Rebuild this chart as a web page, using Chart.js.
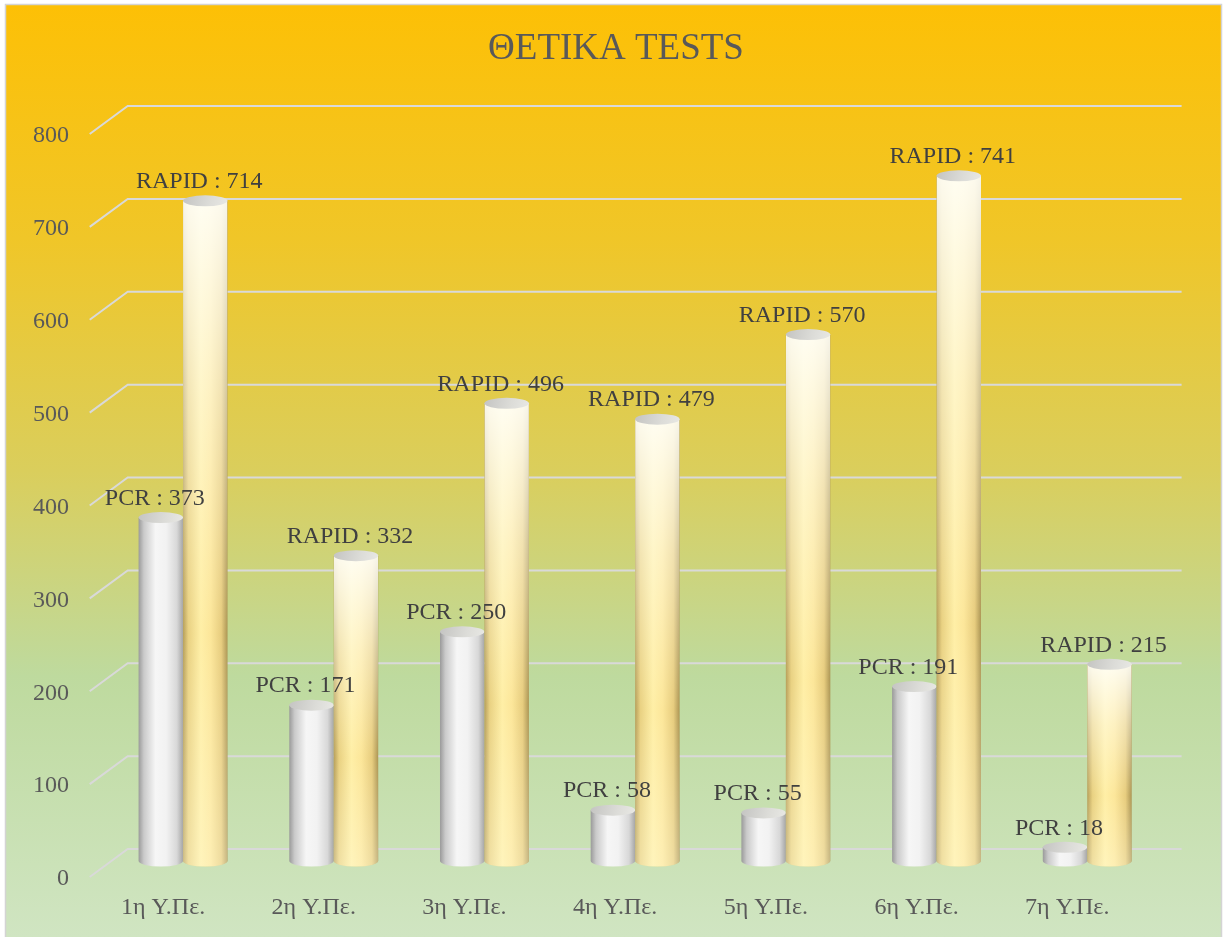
<!DOCTYPE html>
<html><head><meta charset="utf-8">
<script src="https://cdn.jsdelivr.net/npm/chart.js@4/dist/chart.umd.min.js"></script>
<style>html,body{margin:0;padding:0;background:#fff;}canvas{display:block;}</style>
</head><body>
<canvas id="c" width="1226" height="937"></canvas>
<script>
const categories = ['1η Υ.Πε.', '2η Υ.Πε.', '3η Υ.Πε.', '4η Υ.Πε.', '5η Υ.Πε.', '6η Υ.Πε.', '7η Υ.Πε.'];
const pcrValues = [373, 171, 250, 58, 55, 191, 18];
const rapidValues = [714, 332, 496, 479, 570, 741, 215];
const yTickValues = [0, 100, 200, 300, 400, 500, 600, 700, 800];
const seriesNames = ['PCR', 'RAPID'];
const titleText = 'ΘΕΤΙΚΑ TESTS';

const FONT = "'Liberation Serif', 'Times New Roman', serif";

const bgPlugin = {
  id: 'bg',
  beforeDraw(chart) {
    const ctx = chart.ctx;
    ctx.save();
    ctx.fillStyle = '#ffffff';
    ctx.fillRect(0, 0, chart.width, chart.height);
    const g = ctx.createLinearGradient(0, 5, 0, 937);
    g.addColorStop(0, 'rgb(253,192,6)');
    g.addColorStop(0.25, 'rgb(240,198,40)');
    g.addColorStop(0.5, 'rgb(218,206,92)');
    g.addColorStop(0.72, 'rgb(190,218,158)');
    g.addColorStop(1, 'rgb(208,229,194)');
    ctx.fillStyle = g;
    ctx.fillRect(6, 5, 1215, 932);
    ctx.strokeStyle = '#d4d4d4';
    ctx.lineWidth = 1.5;
    ctx.beginPath();
    ctx.moveTo(5.5, 937); ctx.lineTo(5.5, 4.5); ctx.lineTo(1221.5, 4.5); ctx.lineTo(1221.5, 937);
    ctx.stroke();
    ctx.font = '37px ' + FONT;
    ctx.fillStyle = '#595959';
    ctx.textAlign = 'center';
    ctx.textBaseline = 'middle';
    ctx.fillText(titleText, 616, 49);
    ctx.restore();
  }
};

const gridPlugin = {
  id: 'grid3d',
  beforeDatasetsDraw(chart) {
    const ctx = chart.ctx;
    const y = chart.scales.y;
    const a = chart.chartArea;
    ctx.save();
    ctx.strokeStyle = '#d9d9d9';
    ctx.lineWidth = 2;
    yTickValues.forEach(v => {
      const p = y.getPixelForValue(v);
      ctx.beginPath();
      ctx.moveTo(a.left - 18, p + 13);
      ctx.lineTo(a.left + 20, p - 15);
      ctx.lineTo(a.right + 19, p - 15);
      ctx.stroke();
    });
    ctx.restore();
  }
};

function drawCylinder(ctx, x, top, base, w, kind) {
  const rx = w / 2, ry = 5.5;
  const l = x - rx, r = x + rx;
  const bot = base - 3;
  ctx.save();
  ctx.beginPath();
  ctx.moveTo(l, top);
  ctx.lineTo(l, bot);
  ctx.ellipse(x, bot, rx, ry, 0, Math.PI, 0, true);
  ctx.lineTo(r, top);
  ctx.closePath();
  const hg = ctx.createLinearGradient(l, 0, r, 0);
  if (kind === 0) {
    hg.addColorStop(0, '#9a9a9a');
    hg.addColorStop(0.12, '#cacaca');
    hg.addColorStop(0.38, '#f6f6f6');
    hg.addColorStop(0.62, '#f2f2f2');
    hg.addColorStop(0.86, '#d8d8d8');
    hg.addColorStop(1, '#a6a6a6');
  } else {
    hg.addColorStop(0, '#b39a52');
    hg.addColorStop(0.12, '#e8cf7c');
    hg.addColorStop(0.4, '#ffeea2');
    hg.addColorStop(0.62, '#fce595');
    hg.addColorStop(0.86, '#e6ca78');
    hg.addColorStop(1, '#a8904c');
  }
  ctx.fillStyle = hg;
  ctx.fill();
  if (kind === 1) {
    ctx.clip();
    const vg = ctx.createLinearGradient(0, top, 0, bot + ry);
    vg.addColorStop(0, 'rgba(255,255,250,0.9)');
    vg.addColorStop(0.3, 'rgba(255,255,245,0.45)');
    vg.addColorStop(0.65, 'rgba(255,255,240,0.05)');
    vg.addColorStop(1, 'rgba(255,255,235,0.35)');
    ctx.fillStyle = vg;
    ctx.fillRect(l, top - ry, w, bot - top + 2 * ry);
  }
  ctx.restore();
  ctx.save();
  ctx.beginPath();
  ctx.ellipse(x, top, rx, ry, 0, 0, Math.PI * 2);
  const cg = ctx.createLinearGradient(l, top - ry, r, top + ry);
  cg.addColorStop(0, '#c4c4c2');
  cg.addColorStop(0.6, '#dcdcd8');
  cg.addColorStop(1, '#e8e8e4');
  ctx.fillStyle = cg;
  ctx.fill();
  ctx.restore();
}

const cylPlugin = {
  id: 'cyl',
  afterDatasetsDraw(chart) {
    const ctx = chart.ctx;
    chart.data.datasets.forEach((ds, di) => {
      chart.getDatasetMeta(di).data.forEach(el => {
        drawCylinder(ctx, el.x, el.y, el.base, el.width, di);
      });
    });
    ctx.save();
    ctx.font = '24px ' + FONT;
    ctx.fillStyle = '#404040';
    ctx.textAlign = 'center';
    ctx.textBaseline = 'middle';
    chart.data.datasets.forEach((ds, di) => {
      chart.getDatasetMeta(di).data.forEach((el, i) => {
        ctx.fillText(ds.label + ' : ' + ds.data[i], el.x - 6, el.y - 19);
      });
    });
    ctx.restore();
  }
};

new Chart(document.getElementById('c'), {
  type: 'bar',
  data: {
    labels: categories,
    datasets: [
      { label: seriesNames[0], data: pcrValues, backgroundColor: 'rgba(0,0,0,0)', borderWidth: 0 },
      { label: seriesNames[1], data: rapidValues, backgroundColor: 'rgba(0,0,0,0)', borderWidth: 0 }
    ]
  },
  options: {
    responsive: false,
    animation: false,
    devicePixelRatio: 1,
    layout: { padding: { left: 0, right: 63.4, top: 121, bottom: 0 } },
    datasets: { bar: { categoryPercentage: 0.59, barPercentage: 1 } },
    plugins: {
      legend: { display: false },
      tooltip: { enabled: false },
      title: { display: false }
    },
    scales: {
      x: {
        grid: { display: false, drawTicks: false },
        border: { display: false },
        afterFit(s) { s.height = 73; },
        ticks: {
          color: '#595959',
          font: { family: FONT, size: 24 },
          padding: 29,
          labelOffset: -20,
          maxRotation: 0,
          autoSkip: false
        }
      },
      y: {
        min: 0,
        max: 800,
        grid: { display: false, drawTicks: false },
        border: { display: false },
        afterFit(s) { s.width = 107.7; },
        afterBuildTicks(s) { s.ticks = yTickValues.map(v => ({ value: v })); },
        ticks: {
          color: '#595959',
          font: { family: FONT, size: 24 },
          padding: 38.7,
          labelOffset: 15,
          crossAlign: 'near'
        }
      }
    }
  },
  plugins: [bgPlugin, gridPlugin, cylPlugin]
});
</script>
</body></html>
